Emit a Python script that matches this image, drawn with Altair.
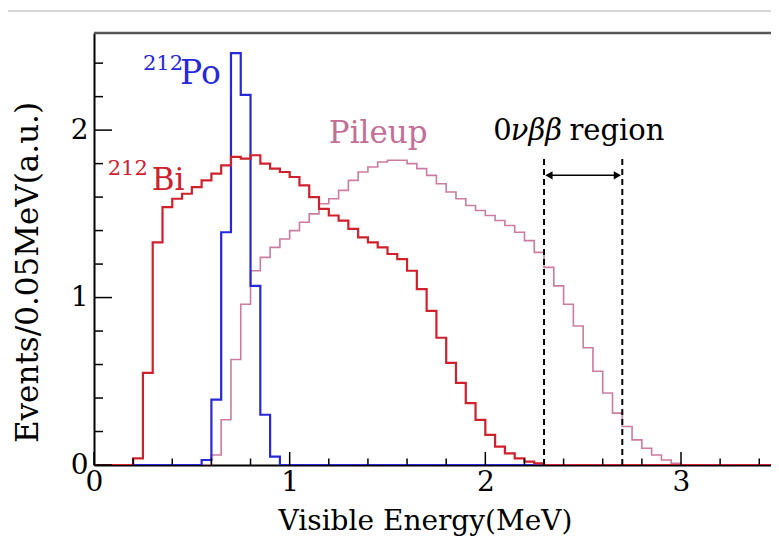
import altair as alt
import pandas as pd

BIN = 0.05
N_BINS = 70
X_MAX = 3.46
Y_MAX = 2.58

# 212Bi histogram (bins of 0.05 MeV starting at bi_start)
bi_start = 0.20
bi_values = [0.04, 0.55, 1.33, 1.54, 1.59, 1.62, 1.66, 1.70, 1.74, 1.79, 1.84, 1.83,
             1.85, 1.80, 1.77, 1.75, 1.72, 1.67, 1.60, 1.53, 1.49, 1.46, 1.41, 1.36,
             1.33, 1.30, 1.26, 1.23, 1.16, 1.05, 0.92, 0.76, 0.61, 0.49, 0.37, 0.27,
             0.18, 0.11, 0.07, 0.04, 0.02, 0.01]
# 212Po histogram
po_start = 0.55
po_values = [0.03, 0.39, 1.39, 2.46, 2.21, 1.07, 0.30, 0.05]
# Pileup histogram
pile_start = 0.60
pile_values = [0.06, 0.27, 0.63, 0.96, 1.16, 1.24, 1.30, 1.35, 1.40, 1.45, 1.50, 1.56,
               1.59, 1.64, 1.70, 1.75, 1.78, 1.81, 1.82, 1.82, 1.80, 1.77, 1.73, 1.68,
               1.63, 1.59, 1.55, 1.52, 1.49, 1.46, 1.43, 1.39, 1.34, 1.27, 1.18, 1.07,
               0.96, 0.83, 0.70, 0.56, 0.43, 0.31, 0.23, 0.15, 0.10, 0.06, 0.03, 0.01]

series_names = ["Pileup", "212Po", "212Bi"]
series_colors = ["#cb7ca0", "#2828d8", "#d0202c"]
series_widths = [1.6, 2.2, 2.2]

x_major = [0, 1, 2, 3]
x_minor = [0.2, 0.4, 0.6, 0.8, 1.2, 1.4, 1.6, 1.8, 2.2, 2.4, 2.6, 2.8, 3.2, 3.4]
y_major = [0, 1, 2]
y_minor = [0.2, 0.4, 0.6, 0.8, 1.2, 1.4, 1.6, 1.8, 2.2, 2.4]

region_edges = [2.3, 2.7]
region_top = 1.85
arrow_y = 1.73
arrow_ends = [2.325, 2.675]

FONT = "DejaVu Serif"
W = 677
H = 432

rows = []
for name, start, vals in [("Pileup", pile_start, pile_values),
                          ("212Po", po_start, po_values),
                          ("212Bi", bi_start, bi_values)]:
    full = [0.0] * N_BINS
    i0 = round(start / BIN)
    for k, v in enumerate(vals):
        full[i0 + k] = v
    for i, v in enumerate(full):
        rows.append({"series": name, "E": round(i * BIN, 2), "v": v})
    rows.append({"series": name, "E": round(N_BINS * BIN, 2), "v": full[-1]})
df = pd.DataFrame(rows)

xs = alt.Scale(domain=[0, X_MAX], nice=False, zero=False)
ys = alt.Scale(domain=[0, Y_MAX], nice=False, zero=False)

x_axis = alt.Axis(values=x_major, format="d", ticks=False, grid=False, labelFlush=False,
                  domainColor="black", domainWidth=2, labelFont=FONT, labelFontSize=28,
                  labelColor="black", labelPadding=3, title="Visible Energy(MeV)",
                  titleFont=FONT, titleFontSize=28, titleFontWeight="normal", titleColor="black",
                  titleX=331, titleY=64, titleBaseline="alphabetic", titleAlign="center")
y_axis = alt.Axis(values=y_major, format="d", ticks=False, grid=False, labelFlush=False,
                  domainColor="black", domainWidth=2, labelFont=FONT, labelFontSize=28,
                  labelColor="black", labelPadding=6, title="Events/0.05MeV(a.u.)",
                  titleFont=FONT, titleFontSize=31, titleFontWeight="normal", titleColor="black",
                  titleX=-66, titleY=239, titleBaseline="middle", titleAlign="center",
                  titleAngle=270)


def X(field):
    return alt.X(field, type="quantitative", scale=xs, axis=x_axis)


def Y(field):
    return alt.Y(field, type="quantitative", scale=ys, axis=y_axis)


layers = []
for name, col, w in zip(series_names, series_colors, series_widths):
    layers.append(
        alt.Chart(df).transform_filter(alt.datum.series == name)
        .mark_line(interpolate="step-after", color=col, strokeWidth=w, clip=True)
        .encode(x=X("E"), y=Y("v"))
    )

ticks = [
    alt.Chart(pd.DataFrame({"E": x_major})).mark_rule(color="black", strokeWidth=1.5)
    .encode(x=X("E"), y=alt.value(H), y2=alt.value(H - 13)),
    alt.Chart(pd.DataFrame({"E": x_minor})).mark_rule(color="black", strokeWidth=1.5)
    .encode(x=X("E"), y=alt.value(H), y2=alt.value(H - 6.5)),
    alt.Chart(pd.DataFrame({"v": y_major})).mark_rule(color="black", strokeWidth=1.5)
    .encode(y=Y("v"), x=alt.value(0), x2=alt.value(18)),
    alt.Chart(pd.DataFrame({"v": y_minor})).mark_rule(color="black", strokeWidth=1.5)
    .encode(y=Y("v"), x=alt.value(0), x2=alt.value(9)),
]

region = alt.Chart(pd.DataFrame({"E": region_edges, "v0": [0, 0], "v1": [region_top] * 2})) \
    .mark_rule(color="black", strokeWidth=2, strokeDash=[6, 4]) \
    .encode(x=X("E"), y=Y("v0"), y2="v1:Q")

arrow_line = alt.Chart(pd.DataFrame({"a": [arrow_ends[0]], "b": [arrow_ends[1]], "v": [arrow_y]})) \
    .mark_rule(color="black", strokeWidth=1.5) \
    .encode(x=X("a"), x2="b:Q", y=Y("v"))
arrow_heads = alt.Chart(pd.DataFrame({"E": arrow_ends, "v": [arrow_y] * 2,
                                      "shape": ["triangle-left", "triangle-right"]})) \
    .mark_point(filled=True, color="black", size=70, opacity=1) \
    .encode(x=X("E"), y=Y("v"),
            shape=alt.Shape("shape:N", scale=None, legend=None))


def label(text, e, v, size, color, style="normal"):
    return alt.Chart(pd.DataFrame({"E": [e], "v": [v], "t": [text]})) \
        .mark_text(font=FONT, fontSize=size, color=color, align="left",
                   baseline="alphabetic", fontStyle=style) \
        .encode(x=X("E"), y=Y("v"), text="t:N")


texts = [
    label("212", 0.25, 2.36, 21, "#2828d8"),
    label("Po", 0.44, 2.275, 33, "#2828d8"),
    label("212", 0.07, 1.73, 21, "#d0202c"),
    label("Bi", 0.295, 1.645, 31, "#d0202c"),
    label("Pileup", 1.20, 1.925, 31, "#c46f98"),
    label("0", 2.04, 1.94, 29, "black"),
    label("νββ", 2.13, 1.94, 29, "black", "italic"),
    label("region", 2.43, 1.94, 29, "black"),
]

top_line = alt.Chart(pd.DataFrame({"k": [0]})).mark_rule(color="#c8c8c8", strokeWidth=1.5) \
    .encode(x=alt.value(-86), x2=alt.value(W), y=alt.value(-22))
frame_top = alt.Chart(pd.DataFrame({"k": [0]})).mark_rule(color="#555555", strokeWidth=2.5) \
    .encode(x=alt.value(0), x2=alt.value(W), y=alt.value(0))

chart = alt.layer(top_line, frame_top, *layers, *ticks, region, arrow_line, arrow_heads, *texts) \
    .properties(width=W, height=H,
                autosize=alt.AutoSizeParams(type="none"),
                padding={"left": 86, "top": 25, "right": 0, "bottom": 72}) \
    .configure(background="white") \
    .configure_view(strokeWidth=0)

chart.save("out.html", embed_options={"renderer": "svg", "actions": False})
